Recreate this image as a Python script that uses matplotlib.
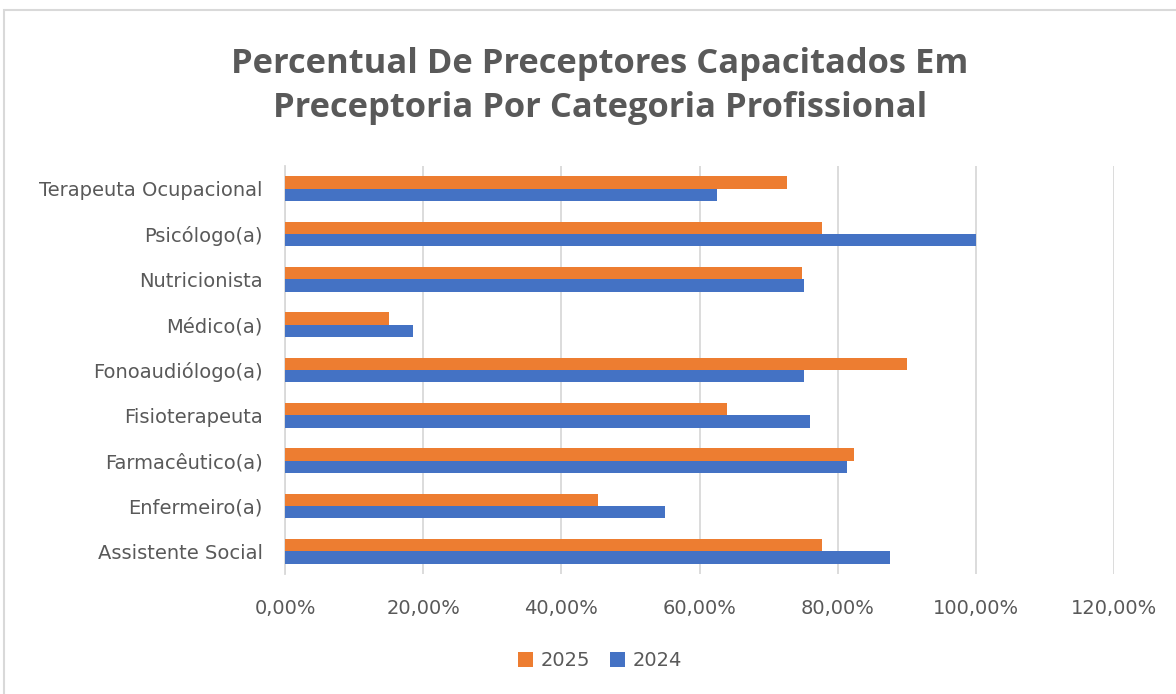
import matplotlib.pyplot as plt
import numpy as np
from matplotlib.patches import Rectangle
from matplotlib.ticker import FuncFormatter

categorias = ["Assistente Social", "Enfermeiro(a)", "Farmacêutico(a)", "Fisioterapeuta",
              "Fonoaudiólogo(a)", "Médico(a)", "Nutricionista", "Psicólogo(a)",
              "Terapeuta Ocupacional"]
v2025 = [77.7, 45.3, 82.3, 64.0, 90.0, 15.0, 74.8, 77.8, 72.7]
v2024 = [87.6, 55.0, 81.3, 76.0, 75.1, 18.5, 75.1, 100.0, 62.5]
ticks = [0, 20, 40, 60, 80, 100, 120]

cinza = "#595959"
laranja = "#ED7D31"
azul = "#4472C4"

fig = plt.figure(figsize=(11.76, 6.94), dpi=100)
ax = fig.add_axes([285/1176, 1 - 574/694, (1114-285)/1176, (574-166)/694])

y = np.arange(len(categorias))
h = 0.275
ax.barh(y + h/2, v2025, height=h, color=laranja, label="2025", zorder=3)
ax.barh(y - h/2, v2024, height=h, color=azul, label="2024", zorder=3)

ax.set_xlim(0, 120)
ax.set_ylim(-0.5, len(categorias) - 0.5)
ax.set_xticks(ticks)
ax.xaxis.set_major_formatter(FuncFormatter(lambda v, p: f"{v:.2f}%".replace(".", ",")))
ax.set_yticks(y)
ax.set_yticklabels(categorias)
ax.tick_params(axis="both", length=0, colors=cinza, labelsize=14)
ax.tick_params(axis="x", pad=18)
ax.tick_params(axis="y", pad=16)
ax.grid(axis="x", color="#D9D9D9", linewidth=1.3, zorder=0)
for s in ["top", "right", "bottom"]:
    ax.spines[s].set_visible(False)
ax.spines["left"].set_color("#D9D9D9")
ax.spines["left"].set_linewidth(1.3)

fig.text(600/1176, 1 - 86/694, "Percentual De Preceptores Capacitados Em\nPreceptoria Por Categoria Profissional",
         ha="center", va="center", fontsize=24.8, fontweight="bold", color=cinza,
         family="Open Sans", linespacing=1.42)

handles, labels = ax.get_legend_handles_labels()
fig.legend(handles, labels, loc="center", bbox_to_anchor=(600/1176, 1 - 661/694), ncol=2,
           frameon=False, fontsize=14, labelcolor=cinza, handlelength=0.8, handleheight=0.8,
           handletextpad=0.4, columnspacing=1.0)

fig.patches.append(Rectangle((4/1176, -0.1), 1.2, 1 - 10/694 + 0.1, transform=fig.transFigure,
                             fill=False, edgecolor="#D9D9D9", linewidth=1.5))

fig.savefig("out.png", dpi=100)
